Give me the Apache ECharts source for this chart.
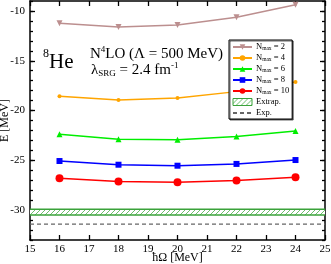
<!DOCTYPE html>
<html><head><meta charset="utf-8">
<script src="https://cdn.jsdelivr.net/npm/echarts@6/dist/echarts.min.js"></script>
<style>html,body{margin:0;padding:0;background:#fff}#c{width:331px;height:264px}</style>
</head><body><div id="c"></div>
<script>
var hw = [16, 18, 20, 22, 24];
var nmax2 = [-11.24, -11.62, -11.41, -10.64, -9.37];
var nmax4 = [-18.57, -18.93, -18.73, -18.1, -17.13];
var nmax6 = [-22.39, -22.88, -22.93, -22.6, -22.05];
var nmax8 = [-25.07, -25.44, -25.54, -25.36, -24.97];
var nmax10 = [-26.8, -27.13, -27.2, -27.02, -26.7];
var extrapLow = -30.5, extrapHigh = -29.9;
var expValue = -31.4;
var xRange = [15, 25];
var yRange = [-33, -9];
var yMajor = [-30, -25, -20, -15, -10];
var yMinor = [];
for (var v = -33; v <= -9; v++) yMinor.push(v);

function pair(xs, ys) { return xs.map(function (x, i) { return [x, ys[i]]; }); }

var cv = document.createElement('canvas');
cv.width = 5; cv.height = 5;
var ctx = cv.getContext('2d');
ctx.fillStyle = '#ffffff'; ctx.fillRect(0, 0, 5, 5);
ctx.strokeStyle = '#6cbf6c'; ctx.lineWidth = 1;
ctx.beginPath(); ctx.moveTo(-1, 6); ctx.lineTo(6, -1); ctx.moveTo(-1, 1); ctx.lineTo(1, -1); ctx.moveTo(4, 6); ctx.lineTo(6, 4); ctx.stroke();
var hatch = { image: cv, repeat: 'repeat' };
var green = '#3aa23a';

var serif = 'Liberation Serif, Times New Roman, serif';
var chart = echarts.init(document.getElementById('c'), null, { renderer: 'canvas' });

function nm(n) { return 'Nmax = ' + n; }
function lineSeries(n, data, color, symbol, size, rot) {
  return { name: nm(n), type: 'line', data: pair(hw, data), symbol: symbol, symbolSize: size, symbolRotate: rot || 0,
    itemStyle: { color: color }, lineStyle: { color: color, width: 1.5 }, z: 3 };
}

var tickStyle = { color: '#000', width: 1.3 };
var axLine = { show: true, onZero: false, lineStyle: { color: '#000', width: 1.5 } };

chart.setOption({
  animation: false,
  textStyle: { fontFamily: serif },
  grid: { left: 30, right: 6, top: 1, bottom: 24, containLabel: false, outerBoundsMode: 'none' },
  xAxis: [
    { type: 'value', position: 'bottom', min: xRange[0], max: xRange[1], interval: 1,
      axisLine: axLine, axisTick: { inside: true, length: 5, lineStyle: tickStyle },
      axisLabel: { color: '#000', fontSize: 11, fontFamily: serif, margin: 4 },
      splitLine: { show: false },
      name: 'ħΩ [MeV]', nameLocation: 'middle', nameGap: 12, nameMoveOverlap: false,
      nameTextStyle: { color: '#000', fontSize: 12, fontFamily: serif } },
    { type: 'value', position: 'top', min: xRange[0], max: xRange[1], interval: 1,
      axisLine: axLine, axisTick: { inside: true, length: 5, lineStyle: tickStyle },
      axisLabel: { show: false }, splitLine: { show: false } }
  ],
  yAxis: [
    { type: 'value', position: 'left', min: yRange[0], max: yRange[1],
      axisLine: axLine,
      axisTick: { inside: true, length: 5, customValues: yMajor, lineStyle: tickStyle },
      axisLabel: { color: '#000', fontSize: 11, fontFamily: serif, margin: 5, customValues: yMajor },
      splitLine: { show: false },
      name: 'E [MeV]', nameLocation: 'middle', nameGap: 19, nameRotate: 90, nameMoveOverlap: false,
      nameTextStyle: { color: '#000', fontSize: 12, fontFamily: serif } },
    { type: 'value', position: 'left', min: yRange[0], max: yRange[1],
      axisLine: { show: false }, axisTick: { inside: true, length: 3, customValues: yMinor, lineStyle: tickStyle },
      axisLabel: { show: false }, splitLine: { show: false } },
    { type: 'value', position: 'right', min: yRange[0], max: yRange[1],
      axisLine: axLine, axisTick: { inside: true, length: 5, customValues: yMajor, lineStyle: tickStyle },
      axisLabel: { show: false }, splitLine: { show: false } },
    { type: 'value', position: 'right', min: yRange[0], max: yRange[1],
      axisLine: { show: false }, axisTick: { inside: true, length: 3, customValues: yMinor, lineStyle: tickStyle },
      axisLabel: { show: false }, splitLine: { show: false } }
  ],
  legend: {
    orient: 'vertical', left: 229, top: 40, itemWidth: 19, itemHeight: 7, itemGap: 1,
    padding: [2, 3, 1, 3], backgroundColor: '#fff', borderColor: '#000', borderWidth: 1,
    shadowColor: 'rgba(0,0,0,0.6)', shadowOffsetX: 1, shadowOffsetY: 1, shadowBlur: 0,
    z: 10,
    textStyle: { fontFamily: serif, fontSize: 8.5, color: '#000', lineHeight: 10, padding: [0, 0, 0, -1],
      rich: { n: { fontSize: 8.5, fontFamily: serif, color: '#000', lineHeight: 10 },
              s: { fontSize: 5.5, fontFamily: serif, color: '#000', lineHeight: 10, padding: [3, 0, 0, 0] } } },
    formatter: function (name) {
      if (name.indexOf('Nmax') === 0) return '{n|N}{s|max}{n|' + name.slice(4) + '}';
      return '{n|' + name + '}';
    },
    data: [nm(2), nm(4), nm(6), nm(8), nm(10),
      { name: 'Extrap.', icon: 'rect', itemStyle: { color: hatch, borderColor: green, borderWidth: 1 } },
      { name: 'Exp.', itemStyle: { opacity: 0 } }]
  },
  graphic: [
    { type: 'text', left: 43, top: 48, z: 5, style: { text: '{a|8}{b|He}', fontFamily: serif,
      rich: { a: { fontSize: 12, fontFamily: serif, fill: '#000', padding: [0, 0, 16, 0] },
              b: { fontSize: 21, fontFamily: serif, fill: '#000' } } } },
    { type: 'text', left: 90, top: 45, z: 5, style: { text: '{a|N}{s|4}{a|LO (Λ = 500 MeV)}', fontFamily: serif,
      rich: { a: { fontSize: 15, fontFamily: serif, fill: '#000' },
              s: { fontSize: 9, fontFamily: serif, fill: '#000', padding: [0, 0, 9, 0] } } } },
    { type: 'text', left: 91, top: 61, z: 5, style: { text: '{a|λ}{s|SRG}{a| = 2.4 fm}{u|-1}', fontFamily: serif,
      rich: { a: { fontSize: 15, fontFamily: serif, fill: '#000' },
              s: { fontSize: 9, fontFamily: serif, fill: '#000', padding: [7, 0, 0, 0] },
              u: { fontSize: 9, fontFamily: serif, fill: '#000', padding: [0, 0, 9, 0] } } } }
  ],
  series: [
    lineSeries(2, nmax2, '#bc8f8f', 'triangle', 6, 180),
    lineSeries(4, nmax4, '#ffa500', 'circle', 4),
    lineSeries(6, nmax6, '#00ee00', 'triangle', 6),
    lineSeries(8, nmax8, '#0000ff', 'rect', 6),
    lineSeries(10, nmax10, '#ff0000', 'circle', 8),
    { name: 'Extrap.', type: 'line', symbol: 'none', data: pair(xRange, [extrapHigh, extrapHigh]),
      itemStyle: { color: hatch }, lineStyle: { color: green, width: 1.5 }, z: 2,
      markArea: { silent: true, itemStyle: { color: hatch }, data: [[{ yAxis: extrapLow }, { yAxis: extrapHigh }]] } },
    { name: 'extrapLow', type: 'line', symbol: 'none', data: pair(xRange, [extrapLow, extrapLow]),
      lineStyle: { color: green, width: 1.5 }, z: 2 },
    { name: 'Exp.', type: 'line', symbol: 'none', data: pair(xRange, [expValue, expValue]),
      itemStyle: { color: '#000' }, lineStyle: { color: '#666', width: 1.2, type: [4, 3] }, z: 2 }
  ]
});
</script></body></html>
